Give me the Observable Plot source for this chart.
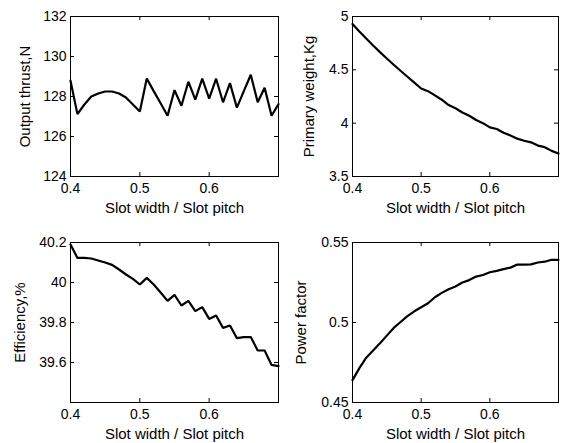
<!DOCTYPE html>
<html>
<head>
<meta charset="utf-8">
<script src="https://cdn.jsdelivr.net/npm/d3@7"></script>
<script src="https://cdn.jsdelivr.net/npm/@observablehq/plot@0.6"></script>
<style>
  html, body { margin: 0; padding: 0; background: #fff; }
  #root { position: relative; width: 564px; height: 443px; font-family: "Liberation Sans", Arial, sans-serif; }
</style>
</head>
<body>
<div id="root"></div>
<script>
// x values: slot width / slot pitch
const ratio = [0.40,0.41,0.42,0.43,0.44,0.45,0.46,0.47,0.48,0.49,0.50,0.51,0.52,0.53,0.54,0.55,0.56,0.57,0.58,0.59,0.60,0.61,0.62,0.63,0.64,0.65,0.66,0.67,0.68,0.69,0.70];

const thrust = [128.79,127.12,127.6,128.0,128.15,128.25,128.25,128.15,127.95,127.6,127.25,128.9,128.27,127.66,127.04,128.32,127.54,128.74,127.84,128.89,127.89,128.89,127.71,128.67,127.44,128.27,129.09,127.71,128.44,127.04,127.62];

const weight = [4.93,4.86,4.793,4.728,4.666,4.606,4.548,4.491,4.435,4.38,4.325,4.30,4.26,4.22,4.17,4.14,4.10,4.07,4.03,4.00,3.96,3.945,3.91,3.885,3.855,3.835,3.82,3.79,3.775,3.74,3.715];

const efficiency = [40.19,40.123,40.123,40.12,40.11,40.10,40.088,40.065,40.04,40.018,39.99,40.023,39.99,39.95,39.908,39.938,39.885,39.908,39.857,39.877,39.818,39.835,39.773,39.785,39.722,39.727,39.727,39.66,39.66,39.588,39.582];

const powerFactor = [0.464,0.4715,0.478,0.4825,0.487,0.4918,0.4966,0.5003,0.504,0.507,0.5095,0.512,0.5158,0.5185,0.5208,0.5225,0.525,0.5265,0.5287,0.5297,0.5314,0.5323,0.5334,0.5343,0.5362,0.5362,0.5363,0.5375,0.538,0.5392,0.5392];

const xTicks = [0.4, 0.5, 0.6];
const xLabel = "Slot width / Slot pitch";

const thrustTicks = [124, 126, 128, 130, 132];
const weightTicks = [3.5, 4, 4.5, 5];
const efficiencyTicks = [39.6, 39.8, 40, 40.2];
const efficiencyTickMarks = [39.4, 39.6, 39.8, 40, 40.2];
const powerTicks = [0.45, 0.5, 0.55];

const panels = [
  {ys: thrust, yDomain: [124, 132], yTicks: thrustTicks, yMarks: thrustTicks, label: "Output thrust,N", left: 0, top: 0, width: 282, height: 221, mt: 16, mb: 45, ml: 70, mr: 4, labelDx: -45},
  {ys: weight, yDomain: [3.5, 5], yTicks: weightTicks, yMarks: weightTicks, label: "Primary weight,Kg", left: 282, top: 0, width: 282, height: 221, mt: 16, mb: 45, ml: 70, mr: 6, labelDx: -43},
  {ys: efficiency, yDomain: [39.4, 40.2], yTicks: efficiencyTicks, yMarks: efficiencyTickMarks, label: "Efficiency,%", left: 0, top: 221, width: 282, height: 222, mt: 21, mb: 41, ml: 70, mr: 4, labelDx: -50},
  {ys: powerFactor, yDomain: [0.45, 0.55], yTicks: powerTicks, yMarks: powerTicks, label: "Power factor", left: 282, top: 221, width: 282, height: 222, mt: 21, mb: 41, ml: 70, mr: 6, labelDx: -51}
];

const root = document.getElementById("root");
for (const p of panels) {
  const data = ratio.map((x, i) => ({x, y: p.ys[i]}));
  const innerW = p.width - p.ml - p.mr;
  const innerH = p.height - p.mt - p.mb;
  const tl = 4;
  const chart = Plot.plot({
    width: p.width,
    height: p.height,
    marginTop: p.mt,
    marginBottom: p.mb,
    marginLeft: p.ml,
    marginRight: p.mr,
    style: {fontFamily: "'Liberation Sans', Arial, sans-serif", fontSize: "14px", color: "black", background: "white", overflow: "visible"},
    x: {domain: [0.4, 0.7]},
    y: {domain: p.yDomain},
    marks: [
      Plot.axisX(xTicks, {tickSize: 0, tickPadding: 7, label: null, tickFormat: d => String(d), fontSize: 14}),
      Plot.axisY(p.yTicks, {tickSize: 0, tickPadding: 4, label: null, tickFormat: d => String(d), fontSize: 14}),
      Plot.ruleX(xTicks, {x: d => d, insetTop: innerH - tl, stroke: "black"}),
      Plot.ruleX(xTicks, {x: d => d, insetBottom: innerH - tl, stroke: "black"}),
      Plot.ruleY(p.yMarks, {y: d => d, insetRight: innerW - tl, stroke: "black"}),
      Plot.ruleY(p.yMarks, {y: d => d, insetLeft: innerW - tl, stroke: "black"}),
      Plot.line(data, {x: "x", y: "y", stroke: "black", strokeWidth: 2.2, strokeLinejoin: "miter"}),
      Plot.frame({stroke: "black", strokeWidth: 1}),
      Plot.text([xLabel], {text: d => d, frameAnchor: "bottom", lineAnchor: "bottom", dy: 36, fontSize: 15, fill: "black"}),
      Plot.text([p.label], {text: d => d, frameAnchor: "left", textAnchor: "middle", rotate: -90, dx: p.labelDx, fontSize: 15, fill: "black"})
    ]
  });
  chart.style.position = "absolute";
  chart.style.left = p.left + "px";
  chart.style.top = p.top + "px";
  root.appendChild(chart);
}
</script>
</body>
</html>
